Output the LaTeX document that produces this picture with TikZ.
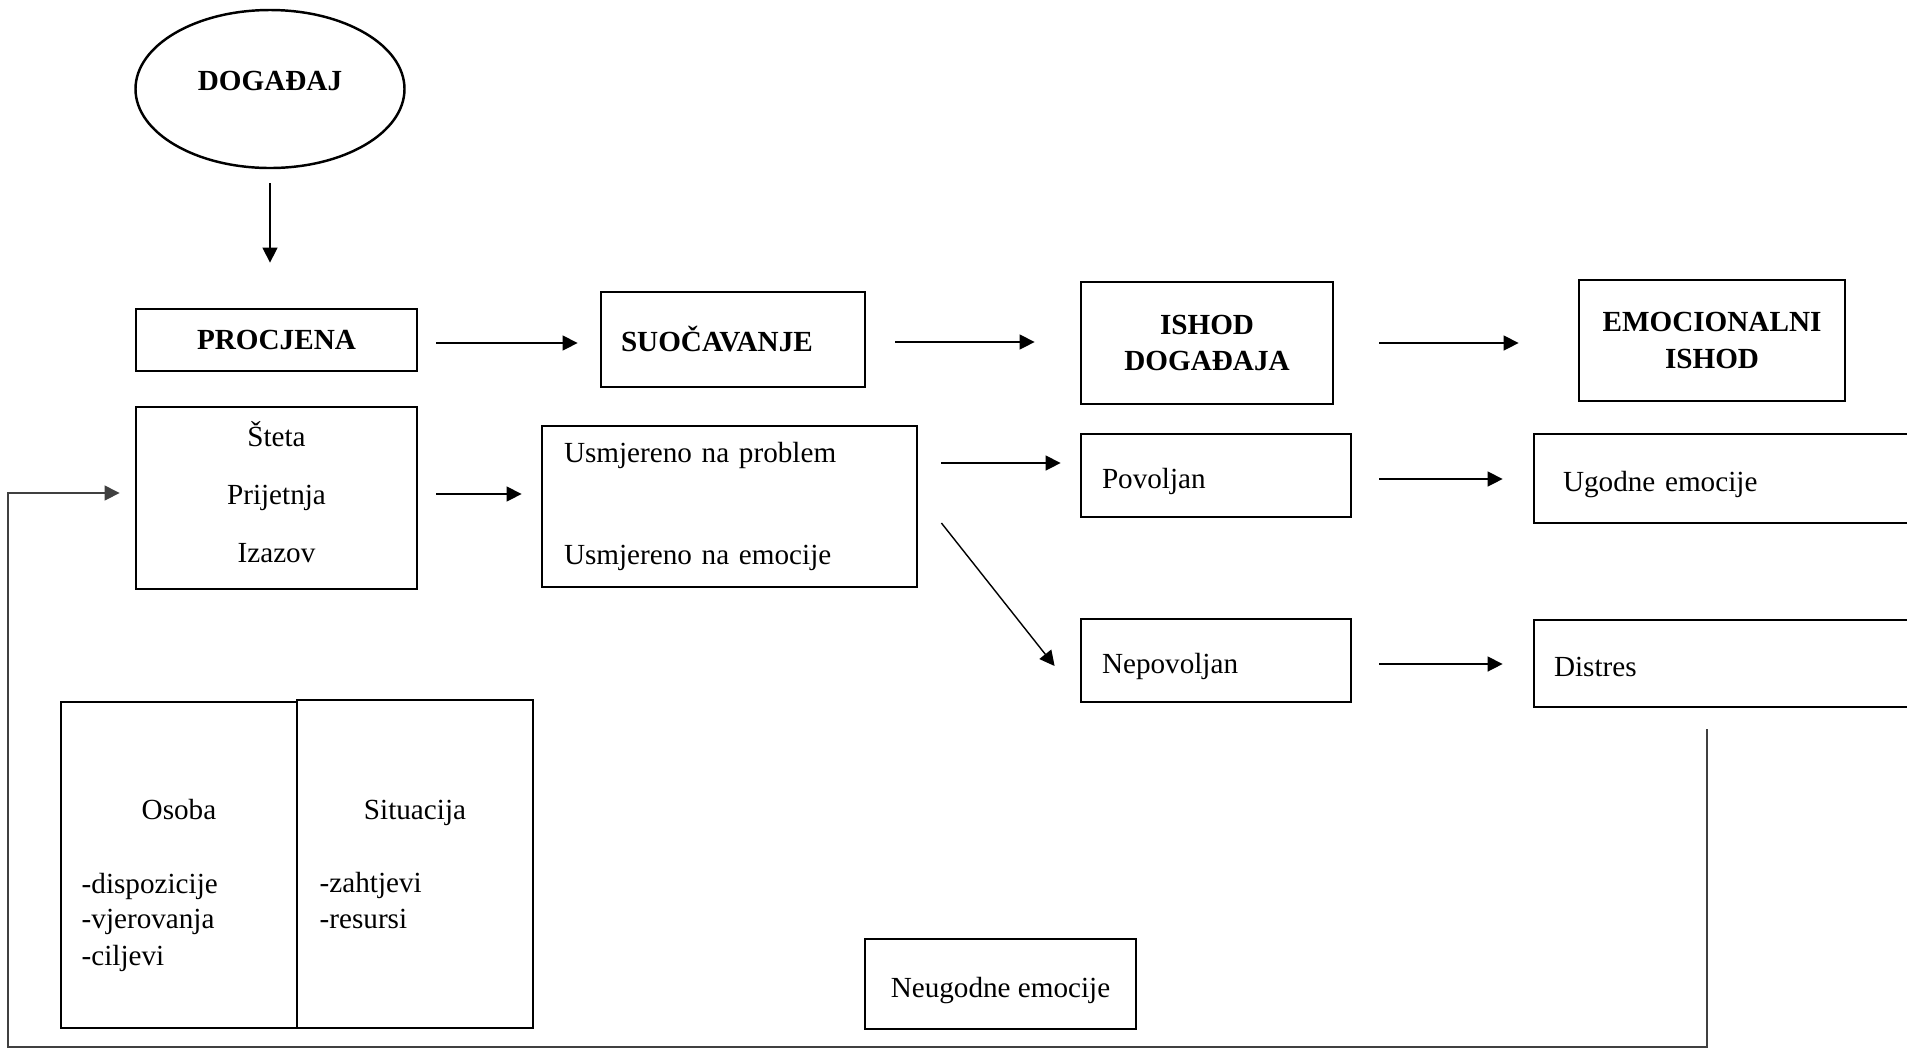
\documentclass[tikz,border=0pt]{standalone}
\usepackage{fontspec}
\setmainfont{Liberation Serif}
\usetikzlibrary{shapes.geometric, arrows.meta, calc}

\begin{document}
\begin{tikzpicture}[
	x = 0.1mm, y = -0.1mm,
	font = \fontsize{8.3}{10}\selectfont,
	okvir/.style = {draw, line width = 0.8pt, inner sep = 0pt},
	naslov/.style = {okvir, font = \fontsize{8.3}{10}\selectfont\bfseries, align = center},
	lijevo/.style = {okvir, align = left},
	redak/.style = {text height = 2.6mm, text depth = 0mm},
	tekst/.style = {inner sep = 0pt, text height = 0.7em, text depth = 0.2em},
	strelica/.style = {line width = 0.4pt, -{Triangle[length=1.5mm, width=1.5mm]}},
	povratna/.style = {line width = 0.35pt, black!75, -{Triangle[length=1.5mm, width=1.5mm]}}
	]
	\useasboundingbox (0,0) rectangle (1907,1049);

	% gornji red
	\node[ellipse, draw, line width = 0.7pt, inner sep = 0pt, minimum width = 26.9mm, minimum height = 15.8mm,
		font = \fontsize{8.3}{10}\selectfont\bfseries, text height = 2mm, text depth = 1.8mm] (dogadjaj) at (270,89) {DOGAĐAJ};
	\node[naslov, minimum width = 28.1mm, minimum height = 6.2mm] (ocjena) at (276.5,340) {PROCJENA};
	\node[naslov, align = left, text width = 22.4mm, inner xsep = 2mm, minimum height = 9.5mm] (suocavanje) at (733,339.5) {SUOČAVANJE};
	\node[naslov, minimum width = 25.2mm, minimum height = 12.2mm] (ishod) at (1207,343) {ISHOD\\DOGAĐAJA};
	\node[naslov, minimum width = 26.6mm, minimum height = 12.1mm] (emocionalni) at (1712,340.5) {EMOCIONALNI\\[0.2mm]ISHOD};

	% drugi red
	\node[okvir, align = center, minimum width = 28.1mm, minimum height = 18.2mm] (procjene) at (276.5,498)
		{Šteta\\[2.3mm]Prijetnja\\[2.3mm]Izazov\rule[-1.2mm]{0pt}{1mm}};
	\node[lijevo, text width = 33.1mm, inner xsep = 2.2mm, minimum height = 16.1mm] (nacini) at (729.5,506.5) {Usmjereno na problem\\[6.6mm]Usmjereno na emocije};
	\node[lijevo, redak, text width = 22.8mm, inner xsep = 2.1mm, minimum height = 8.3mm] (povoljan) at (1216,475.5) {Povoljan};
	\node[lijevo, redak, text width = 22.8mm, inner xsep = 2.1mm, minimum height = 8.3mm] (nepovoljan) at (1216,660.5) {Nepovoljan};
	\node[lijevo, redak, text width = 32.8mm, inner xsep = 2.9mm, minimum height = 8.9mm] (ugodne) at (1727,478.5) {Ugodne emocije};
	\node[lijevo, redak, text width = 34.6mm, inner xsep = 2mm, minimum height = 8.7mm] (distres) at (1727,663.5) {Distres};

	% donji dio
	\node[okvir, minimum width = 23.6mm, minimum height = 32.6mm] (osoba) at (179,865) {};
	\node[okvir, minimum width = 23.6mm, minimum height = 32.8mm] (situacija) at (415,864) {};
	\node[tekst] (osoba-naslov) at (179,811) {Osoba};
	\node[tekst] (situacija-naslov) at (415,811) {Situacija};
	\foreach \t/\y [count=\i] in {-dispozicije/885, -vjerovanja/920, -ciljevi/957}
		\node[tekst, anchor = west] (osoba-\i) at (81,\y) {\t};
	\foreach \t/\y [count=\i] in {-zahtjevi/884, -resursi/920}
		\node[tekst, anchor = west] (situacija-\i) at (319,\y) {\t};
	\node[okvir, redak, minimum width = 27.1mm, minimum height = 9mm] (neugodne) at (1000.5,984) {Neugodne emocije};

	% strelice
	\draw[strelica, shorten <=1.4mm, shorten >=4.5mm] (dogadjaj.south) -- (dogadjaj.south |- ocjena.north);
	\draw[strelica, shorten <=1.8mm, shorten >=2.2mm] ([yshift=-0.3mm]ocjena.east) -- ([yshift=-0.3mm]ocjena.east -| suocavanje.west);
	\draw[strelica, shorten <=2.9mm, shorten >=4.5mm] ([yshift=-0.25mm]suocavanje.east) -- ([yshift=-0.25mm]suocavanje.east -| ishod.west);
	\draw[strelica, shorten <=4.5mm, shorten >=5.9mm] (ishod.east) -- (ishod.east -| emocionalni.west);
	\draw[strelica, shorten <=1.8mm, shorten >=1.9mm] ([yshift=0.4mm]procjene.east) -- ([yshift=0.4mm]procjene.east -| nacini.west);
	\coordinate (povoljan-ulaz) at ([yshift=1.25mm]povoljan.west);
	\draw[strelica, shorten <=2.3mm, shorten >=1.9mm] (nacini.east |- povoljan-ulaz) -- (povoljan-ulaz);
	\draw[strelica] ($(nacini.east)+(23,16.5)$) -- ($(nepovoljan.west)+(-25,5.5)$);
	\draw[strelica, shorten <=2.7mm, shorten >=3mm] ([yshift=-0.35mm]povoljan.east) -- ([yshift=-0.35mm]povoljan.east -| ugodne.west);
	\draw[strelica, shorten <=2.7mm, shorten >=3mm] ([yshift=-0.35mm]nepovoljan.east) -- ([yshift=-0.35mm]nepovoljan.east -| distres.west);

	% povratna veza
	\coordinate (povratak) at (1707,729);
	\coordinate (dno) at (8,1047);
	\draw[povratna, shorten >=1.5mm] (povratak) |- (dno) |- ($(procjene.west)+(0,-5)$);
\end{tikzpicture}
\end{document}
